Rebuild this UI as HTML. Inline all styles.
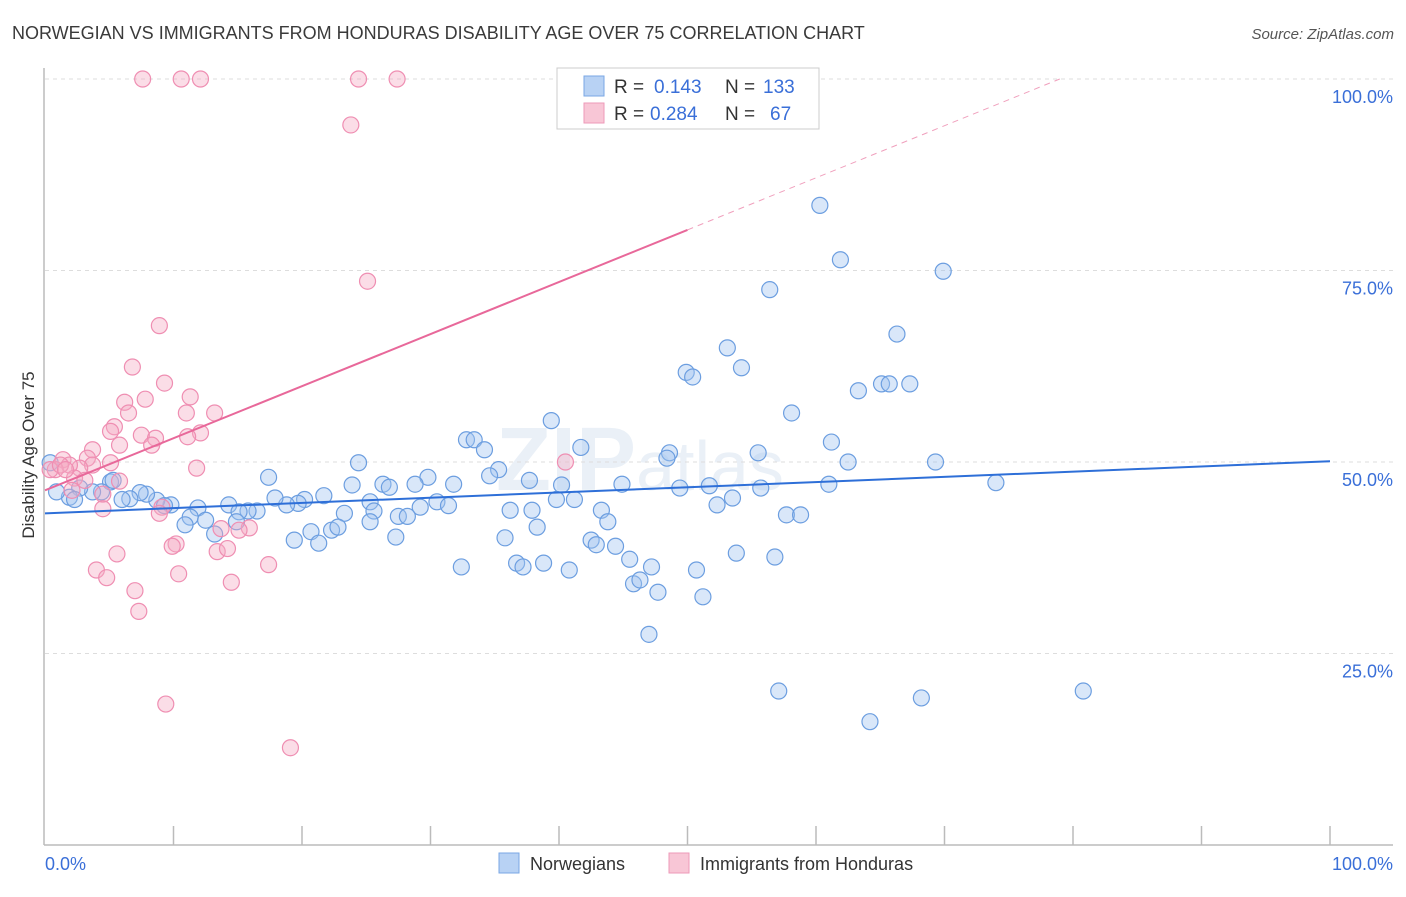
<!DOCTYPE html>
<html><head><meta charset="utf-8"><style>
body{margin:0;background:#fff;font-family:"Liberation Sans",sans-serif}
svg text{font-family:"Liberation Sans",sans-serif}
</style></head><body>
<svg id="chart" width="1406" height="892">
<text x="12" y="39" font-size="18" fill="#3a3a3a">NORWEGIAN VS IMMIGRANTS FROM HONDURAS DISABILITY AGE OVER 75 CORRELATION CHART</text>
<text x="1394" y="39" font-size="15" fill="#555" font-style="italic" text-anchor="end">Source: ZipAtlas.com</text>
<text x="640" y="490" font-size="90" fill="#eaf0f7" font-weight="bold" text-anchor="middle">ZIP<tspan font-weight="normal" font-size="70">atlas</tspan></text>
<g id="grid"></g>
<g id="axes"></g>
<g id="pts"></g>
<g id="lines"></g>
<text transform="translate(34,455) rotate(-90)" font-size="17" fill="#333" text-anchor="middle">Disability Age Over 75</text>
<g>
<rect x="557" y="68" width="262" height="61" fill="#fff" stroke="#ccc"/>
<rect x="584" y="76" width="20" height="20" fill="#b8d2f4" stroke="#7aa7e4"/>
<rect x="584" y="103" width="20" height="20" fill="#f8c6d6" stroke="#ee9ab8"/>
<text x="614" y="93" font-size="19" fill="#333">R =</text>
<text x="654" y="93" font-size="19" fill="#3a6fd8">0.143</text>
<text x="725" y="93" font-size="19" fill="#333">N =</text>
<text x="763" y="93" font-size="19" fill="#3a6fd8">133</text>
<text x="614" y="120" font-size="19" fill="#333">R =</text>
<text x="650" y="120" font-size="19" fill="#3a6fd8">0.284</text>
<text x="725" y="120" font-size="19" fill="#333">N =</text>
<text x="770" y="120" font-size="19" fill="#3a6fd8">67</text>
</g>
<g>
<rect x="499" y="853" width="20" height="20" fill="#b8d2f4" stroke="#7aa7e4"/>
<text x="530" y="870" font-size="18" fill="#333">Norwegians</text>
<rect x="669" y="853" width="20" height="20" fill="#f8c6d6" stroke="#ee9ab8"/>
<text x="700" y="870" font-size="18" fill="#333">Immigrants from Honduras</text>
</g>
</svg>
<script>
const blueX=[60.3,61.9,69.9,56.4,66.3,53.1,54.2,49.9,50.4,63.3,65.1,65.7,67.3,58.1,39.4,61.2,41.7,32.8,33.4,34.2,48.6,48.4,55.5,62.5,69.3,24.4,35.3,17.4,29.8,34.6,23.9,26.3,26.8,28.8,31.8,40.2,44.9,49.4,51.7,55.7,61.0,74.0,39.8,41.2,53.5,52.3,25.3,30.5,31.4,29.2,36.2,37.9,43.3,27.5,28.2,25.6,23.3,21.7,20.2,19.7,18.8,17.9,14.3,16.5,15.8,15.1,11.9,9.8,8.7,7.9,7.4,6.6,6.0,5.1,4.4,3.7,2.7,1.9,2.3,0.9,0.4,9.3,11.3,10.9,12.5,14.9,13.2,20.7,22.3,22.8,25.3,19.4,21.3,27.3,35.8,38.3,43.8,42.5,42.9,44.4,45.5,32.4,36.7,37.2,38.8,40.8,47.2,50.7,53.8,56.8,45.8,46.3,47.7,51.2,47.0,57.1,64.2,68.2,80.8,57.7,58.8,37.7,5.3];
const blueY=[83.5,76.4,74.9,72.5,66.7,64.9,62.3,61.7,61.1,59.3,60.2,60.2,60.2,56.4,55.4,52.6,51.9,52.9,52.9,51.6,51.2,50.5,51.2,50.0,50.0,49.9,49.0,48.0,48.0,48.2,47.0,47.1,46.7,47.1,47.1,47.0,47.1,46.6,46.9,46.6,47.1,47.3,45.1,45.1,45.3,44.4,44.8,44.8,44.3,44.1,43.7,43.7,43.7,42.9,42.9,43.6,43.3,45.6,45.1,44.6,44.4,45.3,44.4,43.6,43.6,43.5,44.0,44.4,45.0,45.8,46.0,45.2,45.1,47.4,46.1,46.1,46.6,45.4,45.1,46.1,49.9,44.3,42.8,41.8,42.4,42.2,40.6,40.9,41.1,41.5,42.2,39.8,39.4,40.2,40.1,41.5,42.2,39.8,39.2,39.0,37.3,36.3,36.8,36.3,36.8,35.9,36.3,35.9,38.1,37.6,34.1,34.6,33.0,32.4,27.5,20.1,16.1,19.2,20.1,43.1,43.1,47.6,47.6];
const pinkX=[7.6,10.6,12.1,24.4,27.4,23.8,25.1,8.9,6.8,9.3,11.3,6.2,7.8,11.0,13.2,6.5,5.4,5.1,7.5,12.1,11.1,8.6,8.3,5.8,3.7,3.3,1.4,5.1,3.7,2.7,1.9,0.8,0.4,11.8,2.3,3.1,5.8,2.1,4.5,9.1,4.5,8.9,13.7,15.9,15.1,10.2,9.9,5.6,13.4,14.2,17.4,4.0,10.4,4.8,14.5,7.0,7.3,40.5,9.4,19.1,1.2,1.6];
const pinkY=[100,100,100,100,100,94,73.6,67.8,62.4,60.3,58.5,57.8,58.2,56.4,56.4,56.4,54.6,54.0,53.5,53.8,53.3,53.1,52.2,52.2,51.6,50.5,50.3,49.9,49.6,49.2,49.6,49.0,49.0,49.2,47.9,47.6,47.5,46.3,45.8,44.1,43.9,43.3,41.3,41.4,41.1,39.3,39.0,38.0,38.3,38.7,36.6,35.9,35.4,34.9,34.3,33.2,30.5,50.0,18.4,12.7,49.6,49.0];
const yTicks=[25,50,75,100];
const yTickLabels=["25.0%","50.0%","75.0%","100.0%"];
const blueTrend=[0,43.3,100,50.1];
const pinkTrend=[0,46.3,50,80.3];

const NS="http://www.w3.org/2000/svg";
const X=v=>45+v*12.85, Y=v=>845-v*7.66;
function mk(tag,attrs,parent){const e=document.createElementNS(NS,tag);for(const k in attrs)e.setAttribute(k,attrs[k]);document.getElementById(parent).appendChild(e);return e;}
yTicks.forEach((t,i)=>{
 const g=mk('line',{x1:45,x2:1393,y1:Y(t),y2:Y(t),stroke:'#ddd','stroke-dasharray':'4,4'},'grid');
 
 
 const tx=mk('text',{x:1393,y:Y(t)+24,'font-size':18,fill:'#3a6fd8','text-anchor':'end'},'grid');
 tx.textContent=yTickLabels[i];
 
 
});
const ax=mk('line',{x1:44,x2:1393,y1:845,y2:845,stroke:'#bbb','stroke-width':1.5},'axes');


const ay=mk('line',{x1:44,x2:44,y1:68,y2:845,stroke:'#bbb','stroke-width':1.5},'axes');


for(let i=1;i<=10;i++){const t=mk('line',{x1:X(i*10),x2:X(i*10),y1:826,y2:845,stroke:'#bbb','stroke-width':1.5},'axes');
 
 }
const l0=mk('text',{x:45,y:870,'font-size':18,fill:'#3a6fd8'},'axes');l0.textContent='0.0%';


const l1=mk('text',{x:1393,y:870,'font-size':18,fill:'#3a6fd8','text-anchor':'end'},'axes');l1.textContent='100.0%';


blueX.forEach((v,i)=>{const c=mk('circle',{cx:X(v),cy:Y(blueY[i]),r:8,fill:'rgba(160,196,240,0.4)',stroke:'#6c9ee0','stroke-width':1.2},'pts');
 
 });
pinkX.forEach((v,i)=>{const c=mk('circle',{cx:X(v),cy:Y(pinkY[i]),r:8,fill:'rgba(245,170,195,0.4)',stroke:'#ef8eb2','stroke-width':1.2},'pts');
 
 });
const bt=mk('line',{x1:X(blueTrend[0]),y1:Y(blueTrend[1]),x2:X(blueTrend[2]),y2:Y(blueTrend[3]),stroke:'#2e6fd8','stroke-width':2},'lines');


const slope=(pinkTrend[3]-pinkTrend[1])/(pinkTrend[2]-pinkTrend[0]);
const pt=mk('line',{x1:X(pinkTrend[0]),y1:Y(pinkTrend[1]),x2:X(pinkTrend[2]),y2:Y(pinkTrend[3]),stroke:'#e8689a','stroke-width':2},'lines');


const xEnd=pinkTrend[0]+(100-pinkTrend[1])/slope;
const pd=mk('line',{x1:X(pinkTrend[2]),y1:Y(pinkTrend[3]),x2:X(xEnd),y2:Y(100),stroke:'#f0a0bd','stroke-width':1,'stroke-dasharray':'6,5'},'lines');


</script>
</body></html>
